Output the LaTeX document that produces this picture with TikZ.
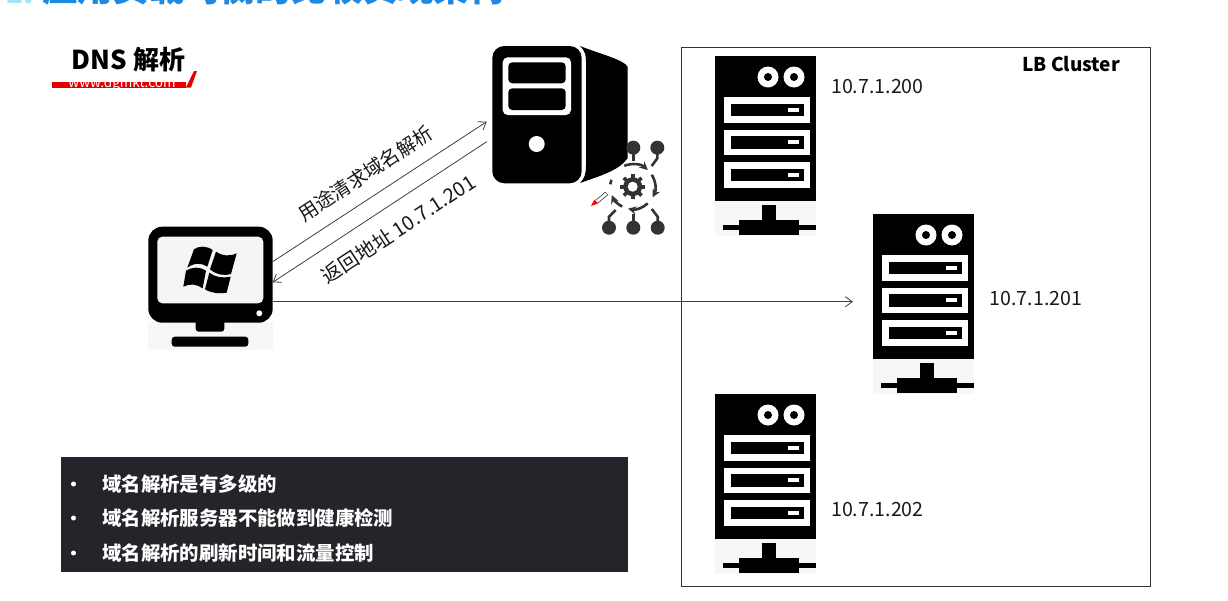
\documentclass[tikz,border=0pt]{standalone}
\usepackage{fontspec}
\setmainfont{Noto Sans CJK SC}
\usetikzlibrary{arrows,arrows.meta}
\usetikzlibrary{positioning}
\definecolor{paneldark}{HTML}{23252A}
\definecolor{titleblue}{HTML}{1E88E5}
\definecolor{titlepale}{HTML}{A6E3F5}
\definecolor{gearcol}{HTML}{333333}
\definecolor{linecol}{HTML}{404040}
\newcommand{\fsize}[1]{\fontsize{#1}{#1}\selectfont}
\tikzset{
  hit/.style={inner sep=0pt, outer sep=0pt, minimum width=#1},
  label/.style={inner sep=0pt, anchor=west, text=black!90, font=\fsize{19.6}},
  tip/.style={-{Straight Barb[length=7pt,width=10pt]}, draw=linecol, line width=0.8pt},
  bullet/.style={inner sep=0pt, anchor=west, text=white, font=\fsize{19.4}\bfseries},
  gearline/.style={draw=gearcol, line width=2.6pt},
  lbrack/.pic={
    % stand
    \fill[black!3] (0,145) rectangle (101,180);
    \fill[black] (46.5,149) rectangle (61,165);
    \fill[black] (23.5,164) rectangle (83.5,178.5);
    \fill[black] (7.5,169) rectangle (101,173.5);
    % body
    \fill[black] (0,0) rectangle (101,145);
    \foreach \cx in {53,79} {
      \fill[white] (\cx,21) circle (10.5);
      \fill[black] (\cx,21) circle (4);
    }
    \foreach \sy in {41,73.5,106} {
      \fill[white] (9,\sy) rectangle (95,\sy+25.5);
      \fill[black] (16,\sy+6.5) rectangle (88.5,\sy+19);
      \fill[white] (73,\sy+10.5) rectangle (84,\sy+14.5);
    }
  }
}

\begin{document}
\begin{tikzpicture}[x=1pt, y=-1pt]
  \useasboundingbox (0,0) rectangle (1228,600);
  \fill[white] (0,0) rectangle (1228,600);
  % Title, cut by the top edge
  \begin{scope}
    \clip (0,0) rectangle (1228,600);
    \node[inner sep=0pt, anchor=base west, text=titlepale, font=\fsize{30}\bfseries] (titlenum) at (5,3) {1.};
    \node[inner sep=0pt, anchor=base west, text=titleblue, font=\fsize{35.6}\bfseries] (title) at (42,1.5)
      {应用负载均衡的比较实现架构};
  \end{scope}
  % Heading with red underline
  \fill[red!90!black] (52,82) rectangle (186,87.5);
  \fill[red!90!black] (186,87.5) -- (191,87.5) -- (197,71) -- (194,71) -- cycle;
  \node[inner sep=0pt, anchor=base, text=white, font=\fsize{13.5}] (mark) at (122,87) {www.dgmkt.com};
  \node[inner sep=0pt, font=\fsize{26}\bfseries] (dnshead) at (128.5,60) {DNS 解析};
  % DNS server
  \fill[black] (580,46) .. controls (586,52) and (586,56) .. (586,64) -- (586,165)
    .. controls (586,173) and (585,178) .. (580,183)
    .. controls (600,176) and (620,170) .. (627.7,158) -- (627.7,67)
    .. controls (625,60) and (600,54) .. (580,46) -- cycle;
  \fill[black, rounded corners=12pt] (492.3,46) rectangle (581.7,183.3);
  \fill[white, rounded corners=5pt] (502.7,57.3) rectangle (571,115);
  \fill[black, rounded corners=4pt] (508.3,62.3) rectangle (565.7,83.3);
  \fill[black, rounded corners=4pt] (508.3,88.3) rectangle (565.7,110);
  \fill[white] (536.7,144) circle (8);
  \node[hit=136pt, minimum height=137pt] (dns) at (560,114.7) {};
  % Gear icon
  \begin{scope}[shift={(632.7,186.7)}, yscale=-1]
    \foreach \ang in {0,45,...,315} {
      \draw[gearcol, line width=3.6pt] (\ang:8) -- (\ang:12.5);
    }
    \fill[gearcol] (0,0) circle (9.5);
    \fill[white] (0,0) circle (5);
    \draw[gearline, ->, >=stealth] (112:22.5) arc[start angle=112, end angle=48, radius=22.5];
    \draw[gearline, ->, >=stealth] (32:22.5) arc[start angle=32, end angle=-28, radius=22.5];
    \draw[gearline, ->, >=stealth] (-48:22.5) arc[start angle=-48, end angle=-102, radius=22.5];
    \draw[gearline, ->, >=stealth] (-118:22.5) arc[start angle=-118, end angle=-158, radius=22.5];
    \draw[gearline] (174:22.5) arc[start angle=174, end angle=162, radius=22.5];
  \end{scope}
  \fill[gearcol] (633.3,147.7) circle (7);
  \fill[gearcol] (657.3,147.7) circle (7);
  \fill[gearcol] (609,227.7) circle (7);
  \fill[gearcol] (633.3,227.7) circle (7);
  \fill[gearcol] (657.7,227.7) circle (7);
  \draw[gearline] (633.3,147.7) -- (633.3,161);
  \draw[gearline] (657.3,147.7) -- (657.3,158.3) -- (651.7,166);
  \draw[gearline] (609,227.7) -- (609,216.7) -- (615.7,210);
  \draw[gearline] (633.3,227.7) -- (633.3,214.3);
  \draw[gearline] (657.7,227.7) -- (657.7,216.7) -- (651.7,209);
  % Pen cursor
  \draw[black!75, line width=4.2pt] (597,201.5) -- (606.7,193.3);
  \draw[white, line width=2.6pt] (597,201.5) -- (606.2,193.7);
  \fill[red] (591,206) -- (594.5,199.5) -- (598,203.5) -- cycle;
  % Client monitor
  \fill[black!3] (148.3,322) rectangle (272.7,350);
  \fill[black, rounded corners=3pt] (195.7,318) rectangle (224.3,331.7);
  \fill[black, rounded corners=3pt] (171.7,336.7) -- (248.3,336.7) -- (248.3,346.7) -- (171.7,346.7) -- cycle;
  \fill[black, rounded corners=14pt] (148.3,226.7) rectangle (272.7,322.7);
  \fill[black!4, rounded corners=5pt] (157.3,236.7) rectangle (263.3,303.3);
  \fill[white] (259.3,313.3) circle (3);
  \begin{scope}[shift={(130,110)}, scale=1/3]
    \fill[black] (192,418) .. controls (205,408) and (228,406) .. (248,420) -- (232,470)
      .. controls (215,458) and (192,458) .. (172,473) -- cycle;
    \fill[black] (258,425) .. controls (275,438) and (298,440) .. (320,430) -- (303,492)
      .. controls (285,498) and (260,495) .. (240,478) -- cycle;
    \fill[black] (168,482) .. controls (188,470) and (210,470) .. (228,482) -- (218,535)
      .. controls (200,522) and (180,520) .. (160,530) -- cycle;
    \fill[black] (238,488) .. controls (255,502) and (280,505) .. (302,500) -- (290,548)
      .. controls (270,552) and (245,550) .. (225,538) -- cycle;
  \end{scope}
  \node[hit=124.4pt, minimum height=123.6pt] (pc) at (210.5,288.5) {};
  % LB cluster box
  \node[draw=black!80, line width=0.9pt, inner sep=0pt, minimum width=469pt, minimum height=539pt] (lbbox) at (915.5,316.5) {};
  \node[inner sep=0pt, font=\fsize{19}\bfseries] (lbname) at (1071,64) {LB Cluster};
  % Three real servers
  \pic at (715,56) {lbrack};
  \pic at (873,214) {lbrack};
  \pic at (715,394) {lbrack};
  \node[label] (ip200) at (831,87) {10.7.1.200};
  \node[label] (ip201) at (989.5,298.5) {10.7.1.201};
  \node[label] (ip202) at (831,509.5) {10.7.1.202};
  % Connectors
  \coordinate (lbin) at (853,301.7);
  \draw[tip] ([yshift=26.8pt]pc.east) -- ([xshift=-5.3pt,yshift=-7pt]dns.west);
  \draw[tip] ([xshift=-5.3pt,yshift=-27pt]dns.west) -- ([yshift=6.2pt]pc.east);
  \draw[tip] ([yshift=-13.2pt]pc.east) -- (lbin);
  \node[rotate=33.2, inner sep=0pt, text=black!90, font=\fsize{19.5}] (asklabel) at (365.5,173.5) {用途清求域名解析};
  \node[rotate=33.2, inner sep=0pt, text=black!90, font=\fsize{20}] (backlabel) at (398.5,229) {返回地址 10.7.1.201};
  % Notes panel
  \fill[paneldark] (61,457) rectangle (628,572);
  \foreach \ty/\tname/\ttext in {484/noteone/域名解析是有多级的, 518/notetwo/域名解析服务器不能做到健康检测, 553/notethree/域名解析的刷新时间和流量控制} {
    \fill[white] (73.5,\ty) circle (2.5);
    \node[bullet] (\tname) at (102,\ty) {\ttext};
  }
\end{tikzpicture}
\end{document}
